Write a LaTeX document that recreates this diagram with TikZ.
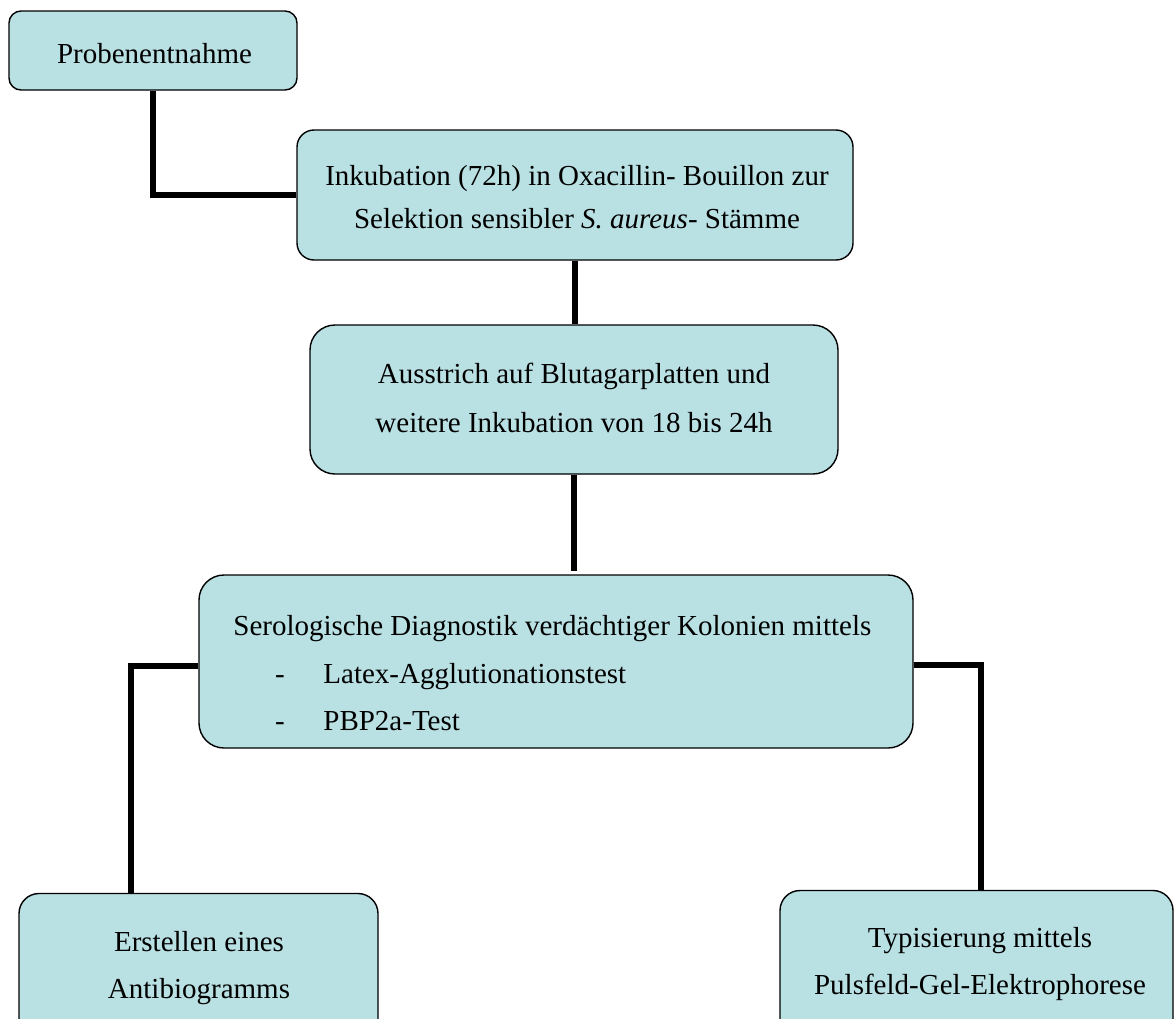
\documentclass[tikz,border=0pt]{standalone}
\usepackage{fontspec}
\setmainfont{Liberation Serif}
\definecolor{boxfill}{RGB}{185,224,227}
\begin{document}
\begin{tikzpicture}[x=0.5pt,y=-0.5pt,
  box/.style={draw=black,line width=0.7pt,fill=boxfill,rounded corners=#1,inner sep=0pt},
  box/.default=12pt,
  txt/.style={font=\fontsize{14.5pt}{21.5pt}\selectfont,inner sep=0pt,anchor=base},
  conn/.style={line width=2.6pt,black}]
\clip (0,0) rectangle (1176,1018);
\fill[white] (0,0) rectangle (1176,1018);
% boxes
\node[box=6pt,minimum width=144pt,minimum height=39.5pt] (b1) at (153,50.5) {};
\node[box=8.5pt,minimum width=278pt,minimum height=65pt] (b2) at (575,195) {};
\node[box=12.5pt,minimum width=264pt,minimum height=74.5pt] (b3) at (574,399.5) {};
\node[box=12.5pt,minimum width=357pt,minimum height=86.5pt] (b4) at (556,661.5) {};
\node[box=10pt,minimum width=179.5pt,minimum height=85pt] (b5) at (198.5,978.5) {};
\node[box=10pt,minimum width=196.5pt,minimum height=85pt] (b6) at (976.5,975.5) {};
% texts
\node[txt] (t1) at (154.5,63) {Probenentnahme};
\node[txt] (t2a) at (577,185) {Inkubation (72h) in Oxacillin- Bouillon zur};
\node[txt] (t2b) at (577,228) {Selektion sensibler \textit{S. aureus}- Stämme};
\node[txt] (t3a) at (574,383) {Ausstrich auf Blutagarplatten und};
\node[txt] (t3b) at (574,432) {weitere Inkubation von 18 bis 24h};
\node[txt,anchor=base west] (t4a) at (233,635) {Serologische Diagnostik verdächtiger Kolonien mittels};
\node[txt] (d4b) at (280,683) {-};
\node[txt,anchor=base west] (t4b) at (323,683) {Latex-Agglutionationstest};
\node[txt] (d4c) at (280,730) {-};
\node[txt,anchor=base west] (t4c) at (323,730) {PBP2a-Test};
\node[txt] (t5a) at (199,951) {Erstellen eines};
\node[txt] (t5b) at (199,998) {Antibiogramms};
\node[txt] (t6a) at (980,947) {Typisierung mittels};
\node[txt] (t6b) at (980,994) {Pulsfeld-Gel-Elektrophorese};
% connectors
\draw[conn] (b1.south) |- (b2.west);
\draw[conn] (b2.south) -- (b2.south |- b3.north);
\draw[conn] (b3.south) -- ([yshift=1.5pt]b3.south |- b4.north);
\draw[conn] ([yshift=-2.25pt]b4.west) -| ([xshift=-33.75pt]b5.north);
\draw[conn] ([yshift=-1.75pt]b4.east) -| ([xshift=2.25pt]b6.north);
\end{tikzpicture}
\end{document}
